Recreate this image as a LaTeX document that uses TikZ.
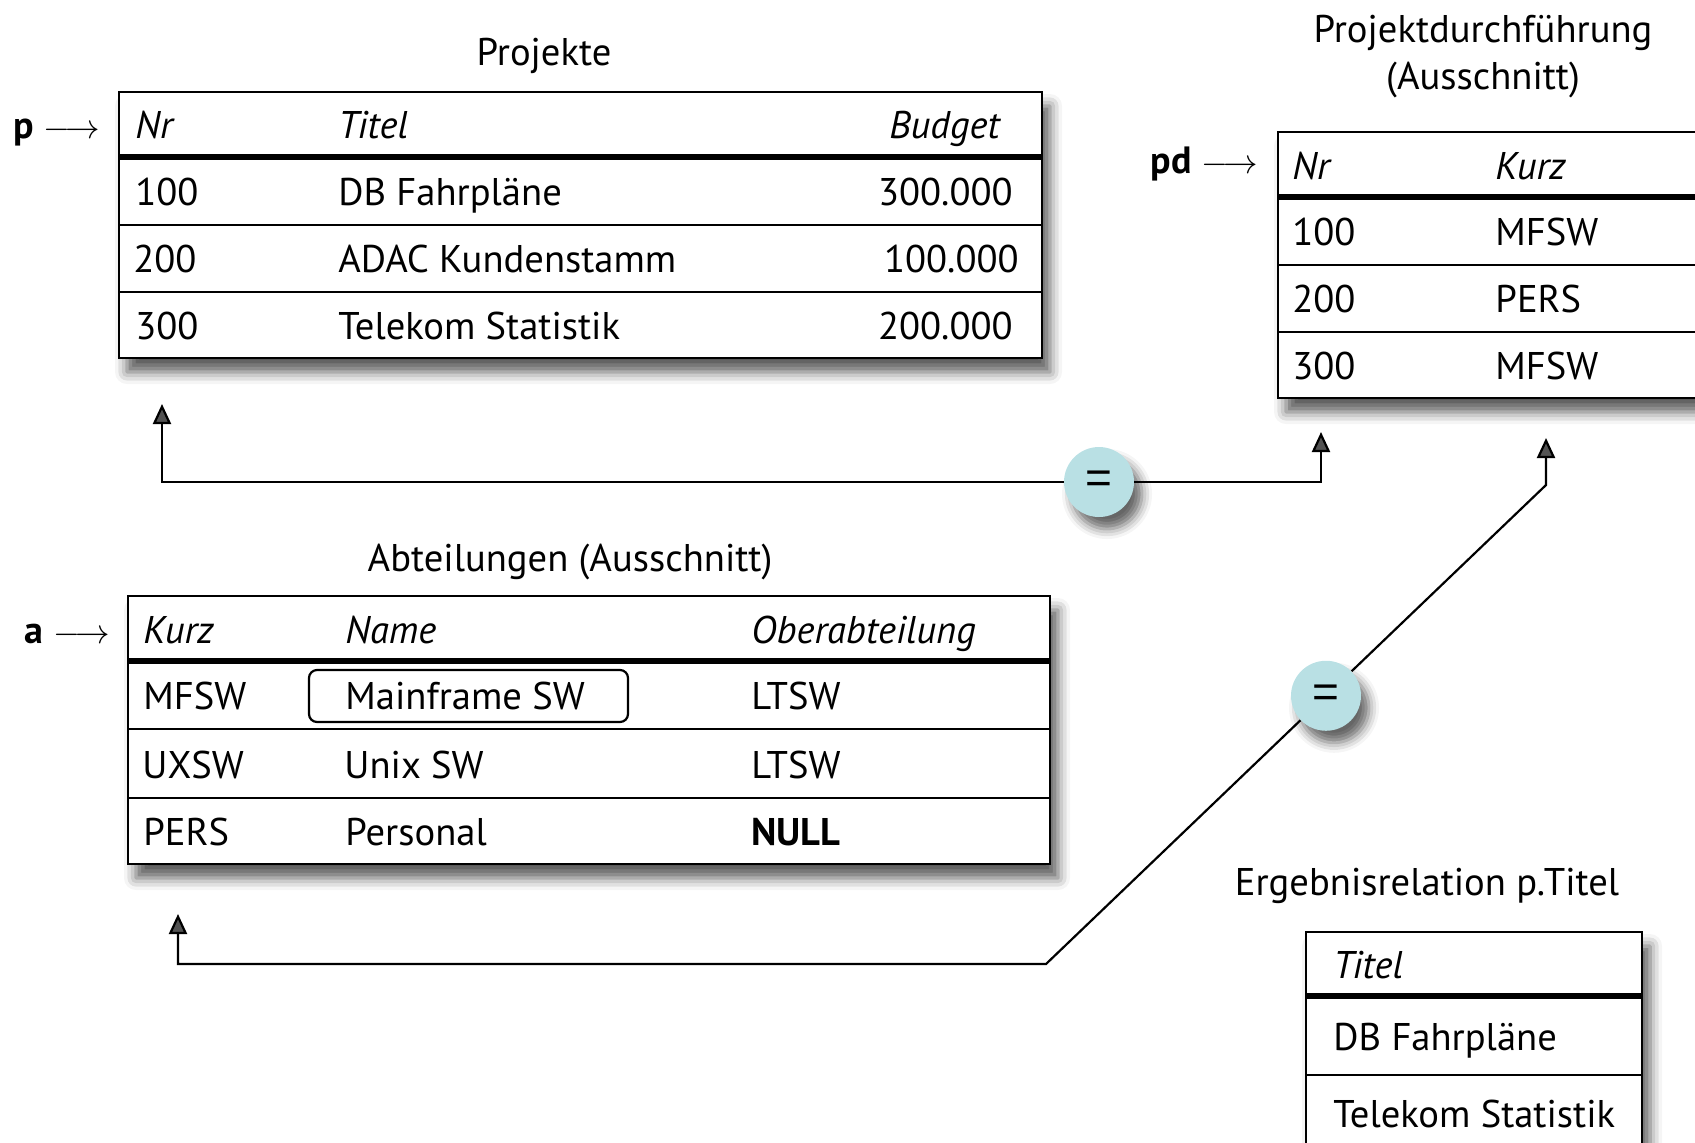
\documentclass[tikz,border=0pt]{standalone}
\usepackage{fontspec}
\setmainfont{PT Sans}
\newfontfamily\eqfont{Liberation Sans}
\usetikzlibrary{shadows.blur,arrows.meta}
\definecolor{eqblue}{HTML}{B9E0E4}
\begin{document}
\begin{tikzpicture}[x=0.5pt,y=-0.5pt,
  tabbox/.style={draw=black,line width=1.3pt,fill=white,
    blur shadow={shadow xshift=4pt,shadow yshift=-7pt,shadow blur radius=6pt,shadow opacity=65}},
  headline/.style={line width=2.8pt},
  rowline/.style={line width=1.2pt},
  cell/.style={anchor=base west,inner sep=0pt,font=\fontsize{19.3}{22}\selectfont},
  hcell/.style={cell,font=\fontsize{19.3}{22}\selectfont\itshape},
  rcell/.style={cell,anchor=base east},
  ttl/.style={anchor=base,inner sep=0pt,font=\fontsize{19.3}{22}\selectfont},
  ptr/.style={anchor=base east,inner sep=0pt,font=\fontsize{19}{22}\selectfont},
  conn/.style={line width=1.1pt,-{Triangle[length=10pt,width=9pt]}},
  eqc/.style={circle,fill=eqblue,minimum size=35pt,inner sep=0pt,
    blur shadow={shadow xshift=4pt,shadow yshift=-6pt,shadow blur radius=5pt,shadow opacity=60},
    font=\fontsize{23}{24}\eqfont},
  hilite/.style={draw,line width=1.1pt,rounded corners=4pt}
]
\useasboundingbox (0,0) rectangle (1695,1142);
\clip (0,0) rectangle (1695,1142);

% ---------- Projekte ----------
\node[ttl] (tp) at (544,65) {Projekte};
\path[tabbox] (119,92) rectangle (1042,358);
\draw[headline] (119,157) -- (1042,157);
\draw[rowline] (119,225) -- (1042,225);
\draw[rowline] (119,292) -- (1042,292);
\node[ptr] (pp) at (100,138) {\textbf{p} $\longrightarrow$};
\node[hcell] (p11) at (135,138) {Nr};
\node[hcell] (p12) at (338,138) {Titel};
\node[hcell,anchor=base east] (p13) at (1000,138) {Budget};
\node[cell] (p21) at (135,205) {100};
\node[cell] (p22) at (338,205) {DB Fahrpläne};
\node[rcell] (p23) at (1013,205) {300.000};
\node[cell] (p31) at (133,272) {200};
\node[cell] (p32) at (338,272) {ADAC Kundenstamm};
\node[rcell] (p33) at (1019,272) {100.000};
\node[cell] (p41) at (135,339) {300};
\node[cell] (p42) at (338,339) {Telekom Statistik};
\node[rcell] (p43) at (1013,339) {200.000};

% ---------- Projektdurchfuehrung ----------
\node[ttl] (tpd1) at (1483,42) {Projektdurchführung};
\node[ttl] (tpd2) at (1483,89) {(Ausschnitt)};
\path[tabbox] (1278,132) rectangle (1730,398);
\draw[headline] (1278,197) -- (1730,197);
\draw[rowline] (1278,265) -- (1730,265);
\draw[rowline] (1278,332) -- (1730,332);
\node[ptr] (ppd) at (1258,173) {\textbf{pd} $\longrightarrow$};
\node[hcell] (d11) at (1292,179) {Nr};
\node[hcell] (d12) at (1495,179) {Kurz};
\node[cell] (d21) at (1292,245) {100};
\node[cell] (d22) at (1495,245) {MFSW};
\node[cell] (d31) at (1292,312) {200};
\node[cell] (d32) at (1495,312) {PERS};
\node[cell] (d41) at (1292,379) {300};
\node[cell] (d42) at (1495,379) {MFSW};

% ---------- Abteilungen ----------
\node[ttl] (ta) at (570,571) {Abteilungen (Ausschnitt)};
\path[tabbox] (128,596) rectangle (1050,864);
\draw[headline] (128,661) -- (1050,661);
\draw[rowline] (128,729) -- (1050,729);
\draw[rowline] (128,798) -- (1050,798);
\node[ptr] (pa) at (110,643) {\textbf{a} $\longrightarrow$};
\node[hcell] (a11) at (143,643) {Kurz};
\node[hcell] (a12) at (345,643) {Name};
\node[hcell] (a13) at (751,643) {Oberabteilung};
\node[cell] (a21) at (143,709) {MFSW};
\node[cell] (a22) at (345,709) {Mainframe SW};
\node[cell] (a23) at (751,709) {LTSW};
\node[cell] (a31) at (142,778) {UXSW};
\node[cell] (a32) at (344,778) {Unix SW};
\node[cell] (a33) at (751,778) {LTSW};
\node[cell] (a41) at (143,845) {PERS};
\node[cell] (a42) at (345,845) {Personal};
\node[cell,font=\fontsize{19.3}{22}\selectfont\bfseries] (a43) at (751,845) {NULL};
\draw[hilite] (309,670) rectangle (628,722);

% ---------- Ergebnisrelation ----------
\node[ttl] (tr) at (1427,895) {Ergebnisrelation p.Titel};
\path[tabbox] (1306,932) rectangle (1642,1175);
\draw[headline] (1306,996) -- (1642,996);
\draw[rowline] (1306,1075) -- (1642,1075);
\node[hcell] (r11) at (1333,978) {Titel};
\node[cell] (r21) at (1333,1050) {DB Fahrpläne};
\node[cell] (r31) at (1333,1127) {Telekom Statistik};

% ---------- Connectors ----------
\coordinate (ptip) at (162,404);
\coordinate (pdtip) at (1321,432);
\coordinate (atip) at (178,914);
\coordinate (pdtip2) at (1546,438);
\coordinate (k1) at (1046,964);
\coordinate (k2) at (1546,485);

\node[eqc] (eq1) at (1099,482) {=};
\path (k1) -- (k2) node[eqc,pos=0.56] (eq2) {=};

\draw[conn] (eq1.west) -| (ptip);
\draw[conn] (eq1.east) -| (pdtip);
\draw[conn] (eq2) -- (k1) -| (atip);
\draw[conn] (eq2) -- (k2) -- (pdtip2);
\end{tikzpicture}
\end{document}
